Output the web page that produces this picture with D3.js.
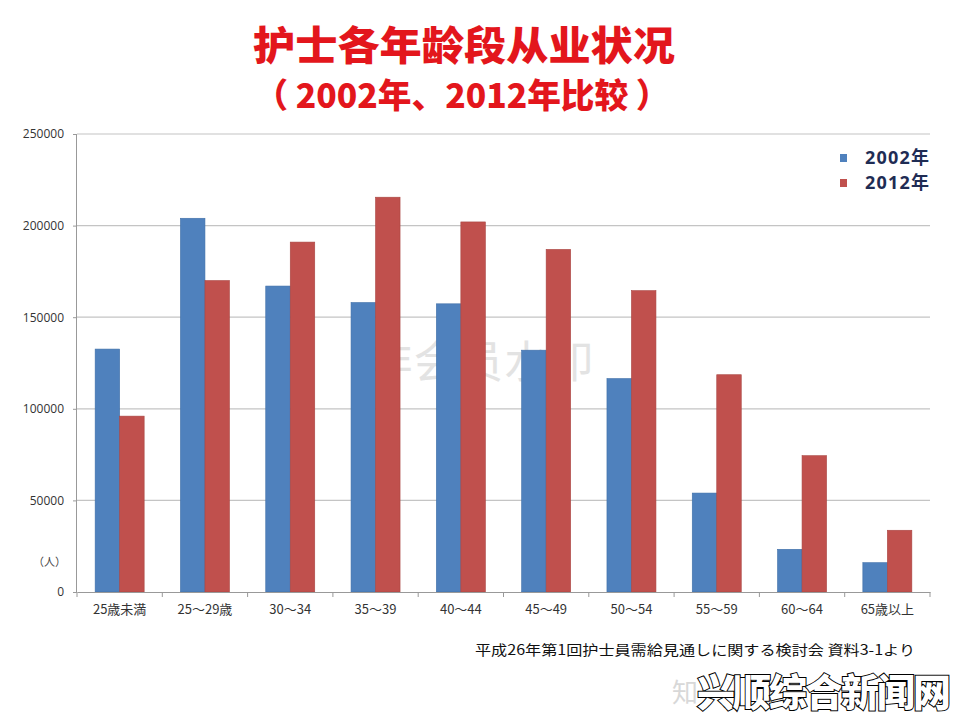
<!DOCTYPE html>
<html><head><meta charset="utf-8">
<script src="https://cdn.jsdelivr.net/npm/d3@7"></script>
<style>body{margin:0;background:#fff;}svg{display:block;}</style>
</head><body>
<script>
const categories = ["25歳未満","25～29歳","30～34","35～39","40～44","45～49","50～54","55～59","60～64","65歳以上"];
const values2002 = [132600, 204000, 167000, 158000, 157300, 132000, 116500, 54000, 23300, 16000];
const values2012 = [96000, 170000, 191000, 215500, 202000, 187000, 164500, 118600, 74400, 33700];
const seriesNames = ["2002年", "2012年"];
const yTicks = [0, 50000, 100000, 150000, 200000, 250000];

const W = 960, H = 720;
const svg = d3.select("body").append("svg").attr("width", W).attr("height", H);
const font = "'Noto Sans CJK JP','Noto Sans CJK SC',sans-serif";

// title
svg.append("text").attr("x", 464).attr("y", 60).attr("text-anchor", "middle")
  .attr("font-family", "'Noto Sans CJK SC',sans-serif").attr("font-weight", 900)
  .attr("font-size", 40).attr("fill", "#E3161C")
  .attr("textLength", 422).attr("lengthAdjust", "spacingAndGlyphs")
  .text("护士各年龄段从业状况");
svg.append("text").attr("x", 462).attr("y", 108).attr("text-anchor", "middle")
  .attr("font-family", "'Noto Sans CJK SC',sans-serif").attr("font-weight", 900)
  .attr("font-size", 34).attr("fill", "#E3161C")
  .attr("textLength", 415).attr("lengthAdjust", "spacingAndGlyphs")
  .text("（ 2002年、2012年比较 ）");

const x0 = 77, x1 = 930, yTop = 134, yBot = 592;
const x = d3.scaleBand().domain(categories).range([x0, x1]).paddingInner(0).paddingOuter(0);
const y = d3.scaleLinear().domain([0, 250000]).range([yBot, yTop]);
const sub = d3.scaleBand().domain(seriesNames).range([0, 49]);
const colors = {"2002年": "#4F81BD", "2012年": "#C0504D"};
const stroke = {"2002年": "#3F6FA8", "2012年": "#A94542"};

// watermark (behind)
svg.append("text").attr("x", 481).attr("y", 378).attr("text-anchor", "middle")
  .attr("font-family", "'Noto Sans CJK SC',sans-serif").attr("font-size", 44)
  .attr("fill", "#E3E3E3").attr("textLength", 225).text("非会员水印");

// gridlines
svg.append("g").selectAll("line").data(yTicks.filter(d => d > 0)).join("line")
  .attr("x1", x0).attr("x2", x1).attr("y1", d => y(d)).attr("y2", d => y(d))
  .attr("stroke", "#C4C4C4").attr("stroke-width", 1.2);

// bars
const rows = categories.map((c, i) => ({c, vals: [
  {s: "2002年", v: values2002[i]}, {s: "2012年", v: values2012[i]}]}));
const g = svg.append("g");
rows.forEach(r => {
  const cx = x(r.c) + x.bandwidth() / 2 - 24.5;
  g.selectAll(null).data(r.vals).join("rect")
    .attr("x", d => cx + sub(d.s)).attr("width", sub.bandwidth())
    .attr("y", d => y(d.v)).attr("height", d => yBot - y(d.v))
    .attr("fill", d => colors[d.s]).attr("stroke", d => stroke[d.s]).attr("stroke-width", 0.6);
});

// y axis
const yAxis = d3.axisLeft(y).tickValues(yTicks).tickSize(4).tickPadding(9).tickFormat(d3.format("d"));
const ya = svg.append("g").attr("transform", `translate(${x0},0)`).call(yAxis);
ya.select(".domain").attr("stroke", "#999").attr("d", `M-0.5,${yTop}V${yBot}`);
ya.selectAll(".tick line").attr("stroke", "#999");
ya.selectAll("text").attr("font-family", "'Open Sans',sans-serif").attr("font-size", 12).attr("fill", "#333");

// x axis
const xa = svg.append("g").attr("transform", `translate(0,${yBot})`).call(d3.axisBottom(x).tickSize(0).tickPadding(13));
xa.select(".domain").attr("stroke", "#999");
xa.selectAll("text").attr("font-family", font).attr("font-size", 13).attr("fill", "#333");
svg.append("g").selectAll("line").data(categories.concat(["end"])).join("line")
  .attr("x1", (d, i) => x0 + i * x.step()).attr("x2", (d, i) => x0 + i * x.step())
  .attr("y1", yBot).attr("y2", yBot + 5).attr("stroke", "#999");

svg.append("text").attr("x", 66).attr("y", 566).attr("text-anchor", "end")
  .attr("font-family", font).attr("font-size", 11).attr("fill", "#444").text("（人）");

// legend
const lg = svg.append("g");
seriesNames.forEach((s, i) => {
  lg.append("rect").attr("x", 840).attr("y", 154 + i * 25).attr("width", 7).attr("height", 8).attr("fill", colors[s]);
  lg.append("text").attr("x", 865).attr("y", 164 + i * 25)
    .attr("font-family", "'Open Sans','Noto Sans CJK JP',sans-serif").attr("font-weight", 700)
    .attr("font-size", 18).attr("fill", "#1F2C54").attr("textLength", 64).text(s);
});

// source
svg.append("text").attr("x", 475).attr("y", 655).attr("font-family", font).attr("font-size", 14)
  .attr("fill", "#111").attr("textLength", 440).attr("lengthAdjust", "spacingAndGlyphs")
  .text("平成26年第1回护士員需給見通しに関する検討会  資料3-1より");

// bottom watermarks
svg.append("text").attr("x", 672).attr("y", 702).attr("font-family", font).attr("font-size", 26)
  .attr("fill", "#D8D8D8").text("知");
svg.append("text").attr("x", 697).attr("y", 706).attr("font-family", "'Noto Sans CJK SC',sans-serif")
  .attr("font-weight", 900).attr("font-size", 38).attr("fill", "#fff").attr("stroke", "#000")
  .attr("stroke-width", 2).attr("paint-order", "stroke").attr("textLength", 254).text("兴顺综合新闻网");
</script>
</body></html>
